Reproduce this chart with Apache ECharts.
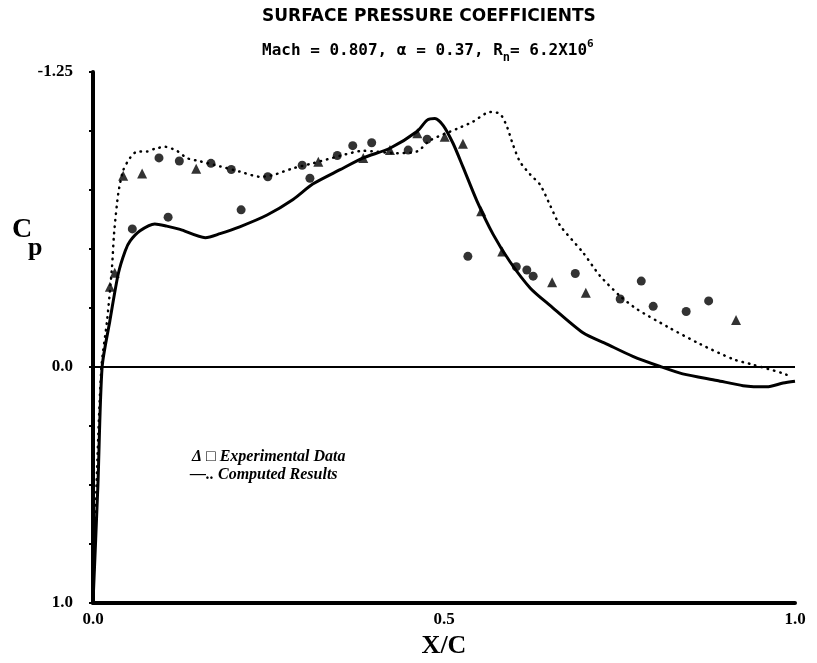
<!DOCTYPE html>
<html>
<head>
<meta charset="utf-8">
<script src="https://cdn.jsdelivr.net/npm/echarts@6/dist/echarts.min.js"></script>
<style>html,body{margin:0;padding:0;background:#fff;}#c{width:817px;height:663px;}</style>
</head>
<body>
<div id="c"></div>
<script>
// Computed results, solid curve: [X/C, Cp]
const solidX = [0, 0.007, 0.013, 0.024, 0.036, 0.046, 0.053, 0.067, 0.088, 0.105, 0.124, 0.160, 0.181, 0.209, 0.248, 0.285, 0.313, 0.352, 0.385, 0.423, 0.462, 0.476, 0.487, 0.499, 0.513, 0.527, 0.547, 0.570, 0.594, 0.623, 0.651, 0.698, 0.732, 0.769, 0.808, 0.840, 0.889, 0.926, 0.960, 0.983, 1.0];
const solidCp = [1.0, 0.5, 0.0, -0.195, -0.395, -0.493, -0.534, -0.577, -0.606, -0.597, -0.583, -0.548, -0.565, -0.594, -0.644, -0.71, -0.775, -0.836, -0.886, -0.927, -0.999, -1.046, -1.053, -1.023, -0.947, -0.848, -0.703, -0.562, -0.446, -0.334, -0.261, -0.145, -0.097, -0.045, -0.002, 0.029, 0.057, 0.079, 0.084, 0.068, 0.06];
// Computed results, dotted curve
const dotX = [0, 0.005, 0.012, 0.020, 0.027, 0.030, 0.036, 0.043, 0.053, 0.063, 0.077, 0.088, 0.103, 0.120, 0.134, 0.152, 0.181, 0.209, 0.238, 0.256, 0.285, 0.313, 0.352, 0.385, 0.433, 0.462, 0.480, 0.519, 0.541, 0.566, 0.580, 0.590, 0.598, 0.608, 0.623, 0.637, 0.651, 0.665, 0.698, 0.722, 0.751, 0.775, 0.818, 0.865, 0.912, 0.940, 0.981, 0.993];
const dotCp = [1.0, 0.5, 0.0, -0.195, -0.42, -0.565, -0.735, -0.833, -0.887, -0.913, -0.913, -0.925, -0.933, -0.915, -0.885, -0.872, -0.85, -0.828, -0.806, -0.813, -0.842, -0.863, -0.895, -0.916, -0.906, -0.914, -0.96, -1.01, -1.039, -1.081, -1.072, -1.016, -0.944, -0.871, -0.815, -0.772, -0.686, -0.601, -0.485, -0.387, -0.3, -0.245, -0.171, -0.097, -0.033, -0.01, 0.025, 0.039];
// Experimental data, triangles
const triX = [0.024, 0.031, 0.043, 0.070, 0.147, 0.321, 0.385, 0.423, 0.462, 0.501, 0.527, 0.553, 0.583, 0.654, 0.702, 0.916];
const triCp = [-0.34, -0.399, -0.81, -0.82, -0.84, -0.87, -0.886, -0.919, -0.99, -0.976, -0.946, -0.66, -0.489, -0.359, -0.315, -0.199];
// Experimental data, squares
const sqX = [0.056, 0.094, 0.107, 0.123, 0.168, 0.197, 0.211, 0.249, 0.298, 0.309, 0.348, 0.370, 0.397, 0.449, 0.476, 0.534, 0.603, 0.618, 0.627, 0.687, 0.751, 0.781, 0.798, 0.845, 0.877];
const sqCp = [-0.585, -0.886, -0.635, -0.873, -0.863, -0.837, -0.666, -0.806, -0.855, -0.8, -0.896, -0.938, -0.95, -0.919, -0.965, -0.469, -0.425, -0.411, -0.385, -0.396, -0.288, -0.364, -0.257, -0.235, -0.28];
// Axis tick labels
const yTickLabels = {'-1.25': '-1.25', '0': '0.0', '1': '1.0'};
const xTickLabels = {'0': '0.0', '0.5': '0.5', '1': '1.0'};

const zip = (a, b) => a.map((v, i) => [v, b[i]]);
const serif = 'Liberation Serif';

const chart = echarts.init(document.getElementById('c'));
chart.setOption({
  backgroundColor: '#fff',
  animation: false,
  grid: {left: 93, right: 22, top: 72, bottom: 60, outerBoundsMode: 'none', containLabel: false},
  xAxis: {
    type: 'value', min: 0, max: 1, interval: 0.5,
    axisLine: {onZero: false, lineStyle: {color: '#000', width: 4}},
    axisTick: {show: false},
    splitLine: {show: false},
    axisLabel: {
      color: '#000', fontFamily: serif, fontWeight: 'bold', fontSize: 17, margin: 8,
      formatter: v => xTickLabels[String(Math.round(v * 10) / 10)] || ''
    },
    name: 'X/C', nameLocation: 'middle', nameGap: 30,
    nameTextStyle: {color: '#000', fontFamily: serif, fontWeight: 'bold', fontSize: 26}
  },
  yAxis: {
    type: 'value', min: -1.25, max: 1.0, interval: 0.25, inverse: true,
    axisLine: {onZero: false, lineStyle: {color: '#000', width: 4}},
    axisTick: {show: true, length: 4, lineStyle: {color: '#000', width: 2}},
    splitLine: {show: false},
    axisLabel: {
      color: '#000', fontFamily: serif, fontWeight: 'bold', fontSize: 17, margin: 20,
      formatter: v => yTickLabels[String(Math.round(v * 100) / 100)] || ''
    }
  },
  graphic: [
    {type: 'text', x: 262, y: 8, style: {text: 'SURFACE PRESSURE COEFFICIENTS', fontFamily: 'DejaVu Sans', fontWeight: 'bold', fontSize: 17, fill: '#000'}},
    {type: 'text', x: 262, y: 37, style: {
      text: 'Mach = 0.807, \u03b1 = 0.37, R{sub|n}= 6.2X10{sup|6}',
      fontFamily: 'DejaVu Sans Mono', fontWeight: 'bold', fontSize: 16, fill: '#000',
      rich: {
        sub: {fontFamily: 'DejaVu Sans Mono', fontWeight: 'bold', fontSize: 12, padding: [15, 0, 0, 0], fill: '#000'},
        sup: {fontFamily: 'DejaVu Sans Mono', fontWeight: 'bold', fontSize: 11, padding: [0, 0, 12, 0], fill: '#000'}
      }
    }},
    {type: 'text', x: 12, y: 216, style: {text: 'C', fontFamily: serif, fontWeight: 'bold', fontSize: 28, fill: '#000'}},
    {type: 'text', x: 28, y: 235, style: {text: 'p', fontFamily: serif, fontWeight: 'bold', fontSize: 26, fill: '#000'}},
    {type: 'text', x: 192, y: 449, style: {text: '\u0394 \u25a1 Experimental Data', fontFamily: serif, fontWeight: 'bold', fontStyle: 'italic', fontSize: 16, fill: '#000'}},
    {type: 'text', x: 190, y: 467, style: {text: '\u2014.. Computed Results', fontFamily: serif, fontWeight: 'bold', fontStyle: 'italic', fontSize: 16, fill: '#000'}}
  ],
  series: [
    {
      type: 'line', data: zip(dotX, dotCp), showSymbol: false, smooth: 0.25,
      lineStyle: {color: '#000', width: 2.5, type: [0.5, 6], cap: 'round'}
    },
    {
      type: 'line', data: zip(solidX, solidCp), showSymbol: false, smooth: 0.25,
      lineStyle: {color: '#000', width: 3},
      markLine: {
        silent: true, symbol: 'none', label: {show: false},
        lineStyle: {color: '#000', width: 1.8, type: 'solid'},
        data: [{yAxis: 0}]
      }
    },
    {
      type: 'scatter', data: zip(triX, triCp), symbol: 'triangle', symbolSize: 10,
      itemStyle: {color: '#000'}
    },
    {
      type: 'scatter', data: zip(sqX, sqCp), symbol: 'circle', symbolSize: 9,
      itemStyle: {color: '#000'}
    }
  ]
});
</script>
</body>
</html>
